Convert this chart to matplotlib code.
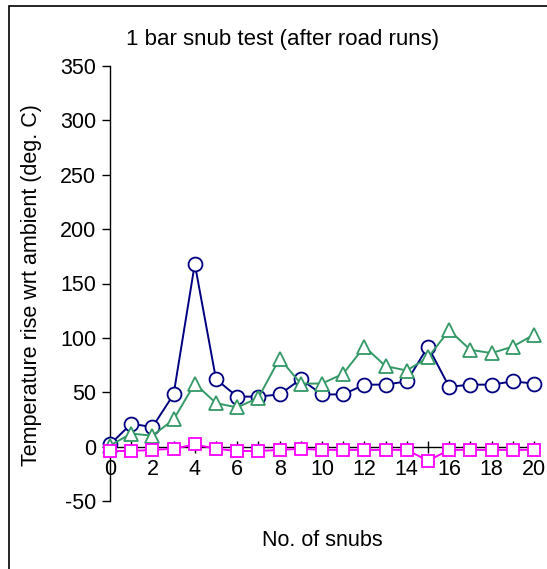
import matplotlib.pyplot as plt
from matplotlib.patches import Rectangle

plt.rcParams['font.family'] = ['Liberation Sans', 'DejaVu Sans']
plt.rcParams['axes.unicode_minus'] = False

# data
snubs = list(range(21))
blue_circles = [2, 21, 18, 48, 168, 62, 46, 46, 48, 62, 48, 48, 57, 57, 60, 92, 55, 57, 57, 60, 58]
green_triangles = [1, 12, 10, 25, 58, 40, 36, 45, 81, 58, 58, 67, 92, 74, 70, 82, 107, 89, 86, 92, 103]
magenta_squares = [-4, -4, -3, -2, 2, -2, -4, -4, -3, -2, -3, -3, -3, -3, -3, -13, -3, -3, -3, -3, -3]
y_ticks = [-50, 0, 50, 100, 150, 200, 250, 300, 350]

W, H = 547, 569
fs = 15.5
fig = plt.figure(figsize=(W / 100, H / 100), dpi=100)
ax = fig.add_axes([110 / W, 1 - 501 / H, (534 - 110) / W, (501 - 66) / H])

# outer chart border
fig.patches.append(Rectangle((9 / W, -0.05), 1.2, 1 - 6 / H + 0.05, transform=fig.transFigure,
                             fill=False, edgecolor='black', linewidth=1.2))

ax.plot(snubs, blue_circles, color='#000080', lw=1.4, marker='o', ms=10, mfc='white',
        mec='#000080', mew=1.3, clip_on=False, zorder=3)
ax.plot(snubs, green_triangles, color='#339966', lw=1.4, marker='^', ms=10, mfc='white',
        mec='#339966', mew=1.3, clip_on=False, zorder=4)
ax.plot(snubs, magenta_squares, color='#FF00FF', lw=1.4, marker='s', ms=9, mfc='white',
        mec='#FF00FF', mew=1.3, clip_on=False, zorder=5)

ax.set_xlim(0, 20)
ax.set_ylim(-50, 350)
ax.set_yticks(y_ticks)
ax.set_xticks(snubs)
ax.set_xticklabels([str(s) if s % 2 == 0 else '' for s in snubs])

for s in ['top', 'right']:
    ax.spines[s].set_visible(False)
ax.spines['bottom'].set_position(('data', 0))
ax.spines['left'].set_linewidth(1.0)
ax.spines['bottom'].set_linewidth(1.0)

ax.tick_params(axis='y', direction='out', length=6, width=1, labelsize=fs, pad=4)
ax.tick_params(axis='x', direction='inout', length=8, width=1, labelsize=fs, pad=5)

fig.text(283 / W, 1 - 40 / H, '1 bar snub test (after road runs)', ha='center', va='center', fontsize=16)
fig.text(322 / W, 1 - 540 / H, 'No. of snubs', ha='center', va='center', fontsize=fs)
fig.text(32 / W, 1 - 285 / H, 'Temperature rise wrt ambient (deg. C)', ha='center', va='center',
         rotation=90, fontsize=fs)

fig.savefig('out.png', dpi=100)
